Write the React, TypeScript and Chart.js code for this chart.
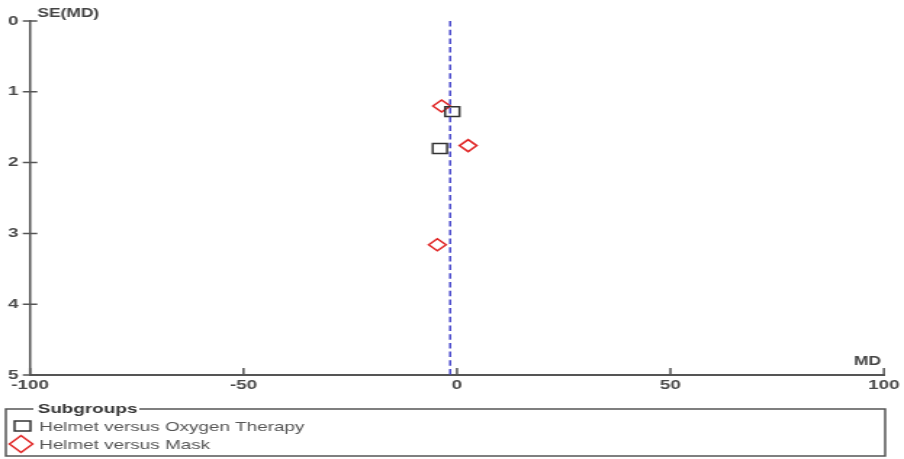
import { useEffect, useRef } from "react";
import { Chart, registerables } from "chart.js";

Chart.register(...registerables);

// ---- data ----
const seriesNames = ["Helmet versus Oxygen Therapy", "Helmet versus Mask"];
const oxygenMD = [-1.1, -4.0];
const oxygenSE = [1.28, 1.8];
const maskMD = [-3.6, 2.6, -4.6];
const maskSE = [1.2, 1.76, 3.16];
const pooledMD = [-1.6];
const seRange = [0, 5];
const mdRange = [-100, 100];
const xTickValues = [-100, -50, 0, 50, 100];
const yTickValues = [0, 1, 2, 3, 4, 5];
const legendTitle = "Subgroups";
const xTitle = "MD";
const yTitle = "SE(MD)";

const FONT = '"Liberation Sans", Arial, sans-serif';
const STRETCH = 1.45;
const OUT_W = 904;
const OUT_H = 459;
const IN_W = Math.round(OUT_W / STRETCH);

const overlay = {
  id: "overlay",
  afterDraw(chart: any) {
    const ctx = chart.ctx;
    const xs = chart.scales.x;
    const ys = chart.scales.y;
    const area = chart.chartArea;
    ctx.save();
    // tick marks crossing the axes
    ctx.strokeStyle = "#555";
    ctx.lineWidth = 1.5;
    ctx.beginPath();
    xs.ticks.forEach((t: any) => {
      const px = xs.getPixelForValue(t.value);
      ctx.moveTo(px, area.bottom - 7);
      ctx.lineTo(px, area.bottom + 1);
    });
    ys.ticks.forEach((t: any) => {
      const py = ys.getPixelForValue(t.value);
      ctx.moveTo(area.left - 5, py);
      ctx.lineTo(area.left + 5, py);
    });
    ctx.stroke();

    // axis titles
    ctx.fillStyle = "#444";
    ctx.font = `bold 12px ${FONT}`;
    ctx.textBaseline = "middle";
    ctx.textAlign = "left";
    ctx.fillText(yTitle, area.left + 5, 14);
    ctx.textAlign = "right";
    ctx.fillText(xTitle, area.right - 2, area.bottom - 13);

    // legend box
    const L = 4, R = 610, T = 409, B = 456;
    ctx.strokeStyle = "#555";
    ctx.lineWidth = 1.5;
    ctx.beginPath();
    ctx.moveTo(23, T);
    ctx.lineTo(L, T);
    ctx.lineTo(L, B);
    ctx.lineTo(R, B);
    ctx.lineTo(R, T);
    ctx.lineTo(96, T);
    ctx.stroke();
    ctx.textAlign = "left";
    ctx.fillStyle = "#333";
    ctx.font = `bold 13px ${FONT}`;
    ctx.fillText(legendTitle, 26, T);

    // legend markers
    ctx.lineWidth = 1.5;
    ctx.strokeStyle = "#333";
    ctx.strokeRect(10, 421, 11, 10);
    ctx.strokeStyle = "#e02424";
    ctx.beginPath();
    ctx.moveTo(14.5 - 8, 444);
    ctx.lineTo(14.5, 444 - 8.5);
    ctx.lineTo(14.5 + 8, 444);
    ctx.lineTo(14.5, 444 + 8.5);
    ctx.closePath();
    ctx.stroke();

    ctx.fillStyle = "#555";
    ctx.font = `13px ${FONT}`;
    ctx.fillText(seriesNames[0], 27, 427);
    ctx.fillText(seriesNames[1], 27, 445);
    ctx.restore();
  },
};

export default function App() {
  const ref = useRef<HTMLCanvasElement | null>(null);

  useEffect(() => {
    const canvas = ref.current;
    if (!canvas) return;
    const chart = new Chart(canvas, {
      type: "scatter",
      data: {
        datasets: [
          {
            type: "line",
            label: "pooled",
            data: [
              { x: pooledMD[0], y: seRange[0] },
              { x: pooledMD[0], y: seRange[1] },
            ],
            borderColor: "#4848cc",
            borderWidth: 1.5,
            borderDash: [5.5, 3.2],
            pointRadius: 0,
            fill: false,
          },
          {
            label: seriesNames[0],
            data: oxygenMD.map((x, i) => ({ x, y: oxygenSE[i] })),
            pointStyle: "rect",
            pointRadius: 7,
            borderColor: "#333",
            borderWidth: 1.5,
            backgroundColor: "rgba(0,0,0,0)",
          },
          {
            label: seriesNames[1],
            data: maskMD.map((x, i) => ({ x, y: maskSE[i] })),
            pointStyle: "rectRot",
            pointRadius: 6,
            borderColor: "#e02424",
            borderWidth: 1.5,
            backgroundColor: "rgba(0,0,0,0)",
          },
        ],
      } as any,
      options: {
        animation: false,
        responsive: false,
        devicePixelRatio: 1,
        layout: { padding: { top: 21, right: 12, bottom: 64, left: 0 } },
        plugins: {
          legend: { display: false },
          tooltip: { enabled: false },
        },
        scales: {
          x: {
            type: "linear",
            min: mdRange[0],
            max: mdRange[1],
            afterBuildTicks: (s: any) => {
              s.ticks = xTickValues.map((v) => ({ value: v }));
            },
            afterFit: (s: any) => {
              s.height = 20;
            },
            ticks: {
              font: { family: FONT, size: 13, weight: "bold" },
              color: "#4a4a4a",
              padding: 3,
              maxRotation: 0,
              autoSkip: false,
            },
            grid: { drawOnChartArea: false, drawTicks: false },
            border: { display: true, color: "#555", width: 2 },
          },
          y: {
            type: "linear",
            reverse: true,
            min: seRange[0],
            max: seRange[1],
            afterBuildTicks: (s: any) => {
              s.ticks = yTickValues.map((v) => ({ value: v }));
            },
            afterFit: (s: any) => {
              s.width = 20.7;
            },
            ticks: {
              font: { family: FONT, size: 13, weight: "bold" },
              color: "#4a4a4a",
              padding: 8,
              autoSkip: false,
            },
            grid: { drawOnChartArea: false, drawTicks: false },
            border: { display: true, color: "#555", width: 1.5 },
          },
        },
      } as any,
      plugins: [overlay],
    });
    canvas.style.width = OUT_W + "px";
    canvas.style.height = OUT_H + "px";
    return () => chart.destroy();
  }, []);

  return (
    <div style={{ position: "fixed", left: 0, top: 0, width: OUT_W, height: OUT_H, background: "#fff" }}>
      <canvas
        ref={ref}
        width={IN_W}
        height={OUT_H}
        style={{ display: "block", width: OUT_W + "px", height: OUT_H + "px" }}
      />
    </div>
  );
}
